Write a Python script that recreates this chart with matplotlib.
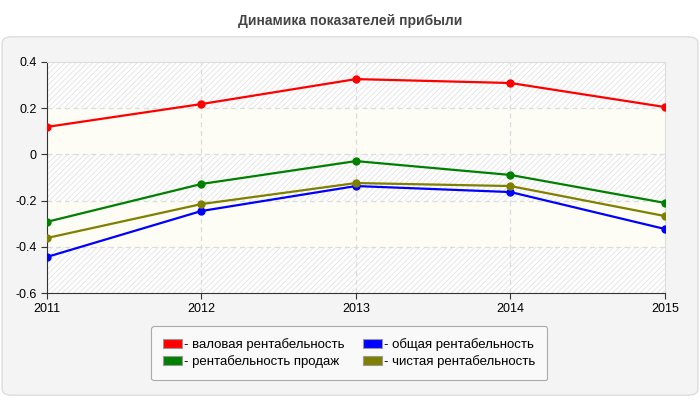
import matplotlib.pyplot as plt
from matplotlib.patches import Patch, FancyBboxPatch

years = [2011, 2012, 2013, 2014, 2015]
gross = [0.119, 0.218, 0.326, 0.309, 0.205]
total = [-0.444, -0.245, -0.137, -0.163, -0.323]
sales = [-0.292, -0.128, -0.029, -0.089, -0.210]
net = [-0.362, -0.215, -0.124, -0.137, -0.267]

names = ['- валовая рентабельность', '- общая рентабельность',
         '- рентабельность продаж', '- чистая рентабельность']
colors = ['#ff0000', '#0000ff', '#008000', '#808000']
series = [gross, total, sales, net]

plt.rcParams['font.family'] = ['Liberation Sans', 'DejaVu Sans']
plt.rcParams['hatch.color'] = '#e2e2e2'
plt.rcParams['hatch.linewidth'] = 0.6

fig = plt.figure(figsize=(7, 4), dpi=100)
fig.patch.set_facecolor('white')

# grey panel behind chart
panel = FancyBboxPatch((0.003, 0.012), 0.994, 0.896, boxstyle='round,pad=0,rounding_size=0.015',
                       transform=fig.transFigure, facecolor='#f4f4f4', edgecolor='#dddddd',
                       linewidth=1, zorder=-10)
fig.patches.append(panel)

fig.text(0.5, 0.948, 'Динамика показателей прибыли', ha='center', va='center',
         fontsize=10, fontweight='bold', color='#444444')

ax = fig.add_axes([0.067, 0.2675, 0.883, 0.5775])
ax.set_facecolor('white')

# hatched background, with plain cream stripes on top
ax.axhspan(-0.6, 0.4, facecolor='white', hatch='//////', edgecolor='#e2e2e2', linewidth=0, zorder=0)
for lo, hi in [(0.0, 0.2), (-0.4, -0.2)]:
    ax.axhspan(lo, hi, facecolor='#fdfdf6', linewidth=0, zorder=0.5)

for y in [0.2, 0.0, -0.2, -0.4]:
    ax.axhline(y, color='#dcdcdc', linestyle=(0, (4, 3)), linewidth=0.9, zorder=1)
for x in years[1:-1]:
    ax.axvline(x, color='#dcdcdc', linestyle=(0, (4, 3)), linewidth=0.9, zorder=1)

for vals, c in zip(series, colors):
    ax.plot(years, vals, color=c, linewidth=1.6, marker='o', markersize=5, zorder=3)

ax.set_xlim(2011, 2015)
ax.set_ylim(-0.6, 0.4)
ax.set_xticks(years)
ax.set_yticks([0.4, 0.2, 0, -0.2, -0.4, -0.6])
ax.set_yticklabels(['0.4', '0.2', '0', '-0.2', '-0.4', '-0.6'])
ax.tick_params(labelsize=9, length=4, color='#333333')
for s in ['top', 'right']:
    ax.spines[s].set_color('#dddddd')
for s in ['left', 'bottom']:
    ax.spines[s].set_color('#333333')

# legend fills column by column, so reorder to get row-wise layout
order = [0, 2, 1, 3]
handles = [Patch(facecolor=colors[i], edgecolor='#999999', linewidth=0.8) for i in order]
labels = [names[i] for i in order]
leg = fig.legend(handles, labels, ncol=2, loc='center', bbox_to_anchor=(0.499, 0.117),
                 fontsize=9.5, frameon=True, fancybox=True, handlelength=1.4, handleheight=0.7,
                 handletextpad=0.2, columnspacing=1.4, labelspacing=0.35,
                 borderpad=0.9, edgecolor='#aaaaaa', facecolor='#f9f9f9', framealpha=1)
leg.get_frame().set_linewidth(0.8)

fig.savefig('out.png', dpi=100)
